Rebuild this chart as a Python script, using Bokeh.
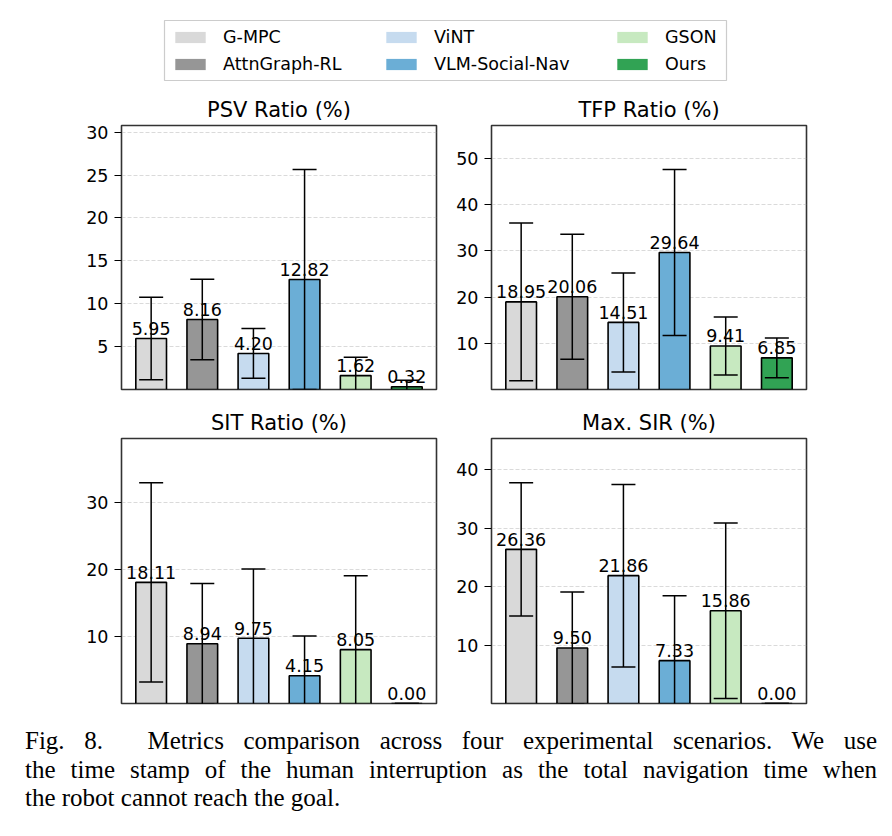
from bokeh.plotting import figure
from bokeh.models import Range1d, FixedTicker, Legend, LegendItem, Div, ColumnDataSource
from bokeh.layouts import column, row
from bokeh.embed import file_html
from bokeh.resources import INLINE
from bokeh.core.properties import value

# ---------------- data ----------------
methods = ["G-MPC", "AttnGraph-RL", "ViNT", "VLM-Social-Nav", "GSON", "Ours"]
colors = ["#d9d9d9", "#969696", "#c6dbef", "#6baed6", "#c7e9c0", "#31a354"]

psv_title = "PSV Ratio (%)"
psv_mean = [5.95, 8.16, 4.20, 12.82, 1.62, 0.32]
psv_std = [4.80, 4.70, 2.90, 12.83, 2.15, 0.76]
psv_ticks = [5, 10, 15, 20, 25, 30]

tfp_title = "TFP Ratio (%)"
tfp_mean = [18.95, 20.06, 14.51, 29.64, 9.41, 6.85]
tfp_std = [17.05, 13.50, 10.70, 17.95, 6.30, 4.30]
tfp_ticks = [10, 20, 30, 40, 50]

sit_title = "SIT Ratio (%)"
sit_mean = [18.11, 8.94, 9.75, 4.15, 8.05, 0.00]
sit_std = [14.90, 9.00, 10.35, 5.95, 11.05, 0.00]
sit_ticks = [10, 20, 30]

sir_title = "Max. SIR (%)"
sir_mean = [26.36, 9.50, 21.86, 7.33, 15.86, 0.00]
sir_std = [11.40, 9.55, 15.60, 11.10, 15.00, 0.00]
sir_ticks = [10, 20, 30, 40]

caption_lines = [
    "Fig. 8.&emsp; Metrics comparison across four experimental scenarios. We use",
    "the time stamp of the human interruption as the total navigation time when",
    "the robot cannot reach the goal.",
]

FONT = "DejaVu Sans"
BAR_W = 0.6


def panel(title, means, stds, ticks, left, right, top, bottom, frame_h):
    n = len(means)
    xs = list(range(n))
    upper = [m + s for m, s in zip(means, stds)]
    lower = [m - s for m, s in zip(means, stds)]
    lo, hi = -BAR_W / 2, n - 1 + BAR_W / 2
    pad = 0.05 * (hi - lo)
    p = figure(frame_width=315, frame_height=frame_h,
               x_range=Range1d(lo - pad, hi + pad),
               y_range=Range1d(0, 1.2 * max(upper)),
               output_backend="svg", toolbar_location=None, title=title,
               min_border_left=left, min_border_right=right,
               min_border_top=top, min_border_bottom=bottom)
    p.title.text_font = FONT
    p.title.text_font_size = "21px"
    p.title.text_font_style = "normal"
    p.title.text_color = "black"
    p.title.align = "center"
    p.title.standoff = 7

    p.xaxis.visible = False
    yax = p.yaxis[0]
    yax.ticker = FixedTicker(ticks=ticks)
    yax.major_label_text_font = FONT
    yax.major_label_text_font_size = "17.5px"
    yax.major_label_text_color = "black"
    yax.major_tick_out = 7
    yax.major_tick_in = 0
    yax.major_tick_line_color = "black"
    yax.major_tick_line_width = 1.2
    yax.minor_tick_line_color = None
    yax.axis_line_color = None
    yax.major_label_standoff = 6

    p.xgrid.visible = False
    p.ygrid.grid_line_color = "#b0b0b0"
    p.ygrid.grid_line_alpha = 0.6
    p.ygrid.grid_line_dash = "4 2"
    p.ygrid.grid_line_width = 0.8

    p.outline_line_color = "#333333"
    p.outline_line_width = 1.6
    p.outline_line_alpha = 1.0

    src = ColumnDataSource(dict(x=xs, top=means, color=colors, upper=upper, lower=lower,
                                label=[f"{m:.2f}" for m in means]))
    p.vbar(x="x", top="top", width=BAR_W, fill_color="color", line_color="black",
           line_width=1.6, source=src)
    p.text(x="x", y="top", text="label", text_align="center", text_baseline="bottom",
           y_offset=-3.5, text_font=value(FONT), text_font_size="17.5px",
           text_color="black", source=src)
    p.segment(x0="x", y0="lower", x1="x", y1="upper", line_color="black",
              line_width=1.5, source=src)
    p.scatter(x="x", y="upper", marker="dash", size=24, line_color="black",
              line_width=1.5, source=src)
    p.scatter(x="x", y="lower", marker="dash", size=24, line_color="black",
              line_width=1.5, source=src)
    return p


# ---------------- legend strip ----------------
lp = figure(frame_width=562, frame_height=60, x_range=Range1d(0, 1), y_range=Range1d(0, 1),
            output_backend="svg", toolbar_location=None, title=None,
            x_axis_location=None, y_axis_location=None,
            min_border_left=164, min_border_right=158, min_border_top=20, min_border_bottom=8)
lp.grid.visible = False
lp.outline_line_color = "#cccccc"
lp.outline_line_width = 1.2

# zero-height swatch carriers (one per method, coloured per row)
leg_src = ColumnDataSource(dict(x=list(range(len(methods))), top=[0] * len(methods),
                                color=colors))
leg_r = lp.vbar(x="x", top="top", width=0.01, fill_color="color", line_color=None,
                source=leg_src)
col_x = [7, 218, 449]
for k in range(3):
    items = [LegendItem(label=methods[2 * k + j], renderers=[leg_r], index=2 * k + j)
             for j in range(2)]
    lg = Legend(items=items, location=(col_x[k], 6), orientation="vertical",
                glyph_width=38, glyph_height=14, label_standoff=14, spacing=7,
                padding=0, margin=0, border_line_color=None, background_fill_alpha=0,
                label_text_font=FONT, label_text_font_size="17.5px", label_text_color="black")
    lp.add_layout(lg)

# ---------------- panels ----------------
p1 = panel(psv_title, psv_mean, psv_std, psv_ticks, 121, 17, 37, 15, 264)
p2 = panel(tfp_title, tfp_mean, tfp_std, tfp_ticks, 34, 77, 37, 15, 264)
p3 = panel(sit_title, sit_mean, sit_std, sit_ticks, 121, 17, 34, 16, 265)
p4 = panel(sir_title, sir_mean, sir_std, sir_ticks, 34, 77, 34, 16, 265)

line_divs = "".join(
    f'<div style="text-align:justify;text-align-last:justify;">{t}</div>' for t in caption_lines[:-1]
) + f'<div style="text-align:left;">{caption_lines[-1]}</div>'
cap_html = ('<div style="font-family:\'Liberation Serif\',\'Times New Roman\',serif;font-size:25px;'
            'line-height:28.7px;color:#000;width:852px;margin-left:25px;margin-top:8px;">'
            + line_divs + '</div>')
cap = Div(text=cap_html, width=884, height=105, margin=(0, 0, 0, 0))

layout = column(lp, row(p1, p2), row(p3, p4), cap)

open("out.html", "w").write(file_html(layout, INLINE))
